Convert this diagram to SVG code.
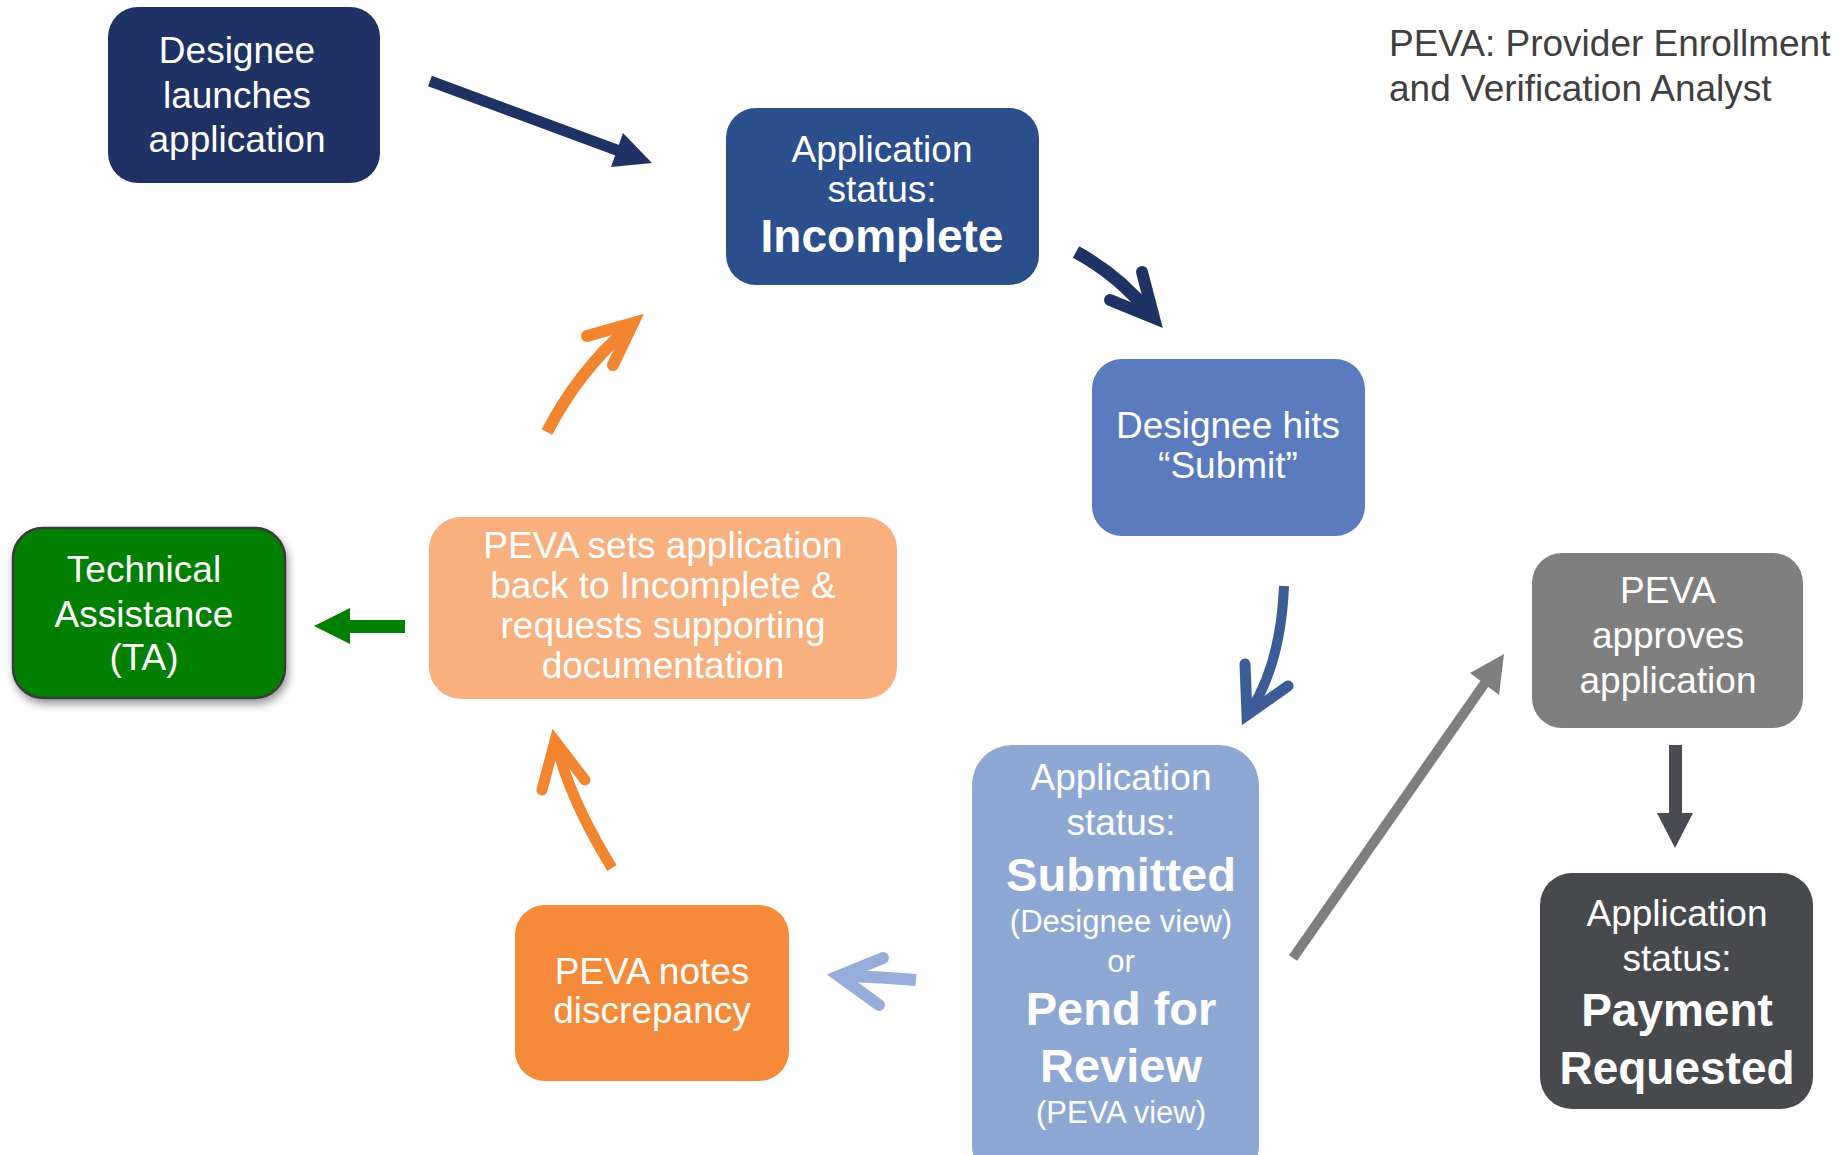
<svg xmlns="http://www.w3.org/2000/svg" width="1848" height="1155" viewBox="0 0 1848 1155">
<defs>
<style>
text{font-family:"Liberation Sans",Arial,sans-serif;fill:#fff;text-anchor:middle}
.r{font-size:37px}
.b{font-size:46px;font-weight:bold}
.bb{font-size:47px;font-weight:bold}
.s{font-size:31px}
.m{font-size:37px}
.legend{font-size:37px;fill:#404040;text-anchor:start}
.head{fill:none;stroke-linecap:round;stroke-linejoin:miter;stroke-miterlimit:10}
.shaft{fill:none;stroke-linecap:butt}
</style>
<filter id="sh" x="-20%" y="-20%" width="140%" height="150%">
<feDropShadow dx="2" dy="5" stdDeviation="4" flood-color="#000" flood-opacity="0.4"/>
</filter>
</defs>
<rect width="1848" height="1155" fill="#fff"/>

<g id="connectors">
<!-- launches -> Incomplete -->
<line x1="430" y1="81" x2="622" y2="152" stroke="#1F3264" stroke-width="11"/>
<polygon points="652,163 623,133 611,167" fill="#1F3264"/>
<!-- Incomplete -> Submit -->
<path class="shaft" d="M1076,252 Q1120,276 1150,314" stroke="#1F3264" stroke-width="13"/>
<polyline class="head" points="1110,300 1154,318 1142,272" stroke="#1F3264" stroke-width="12"/>
<!-- Submit -> Submitted -->
<path class="shaft" d="M1284,586 Q1281,662 1251,710" stroke="#3B5C96" stroke-width="10"/>
<polyline class="head" points="1245,664 1247,715 1288,686" stroke="#3B5C96" stroke-width="11"/>
<!-- Submitted -> approves -->
<line x1="1293" y1="958" x2="1487" y2="680" stroke="#7F7F7F" stroke-width="10"/>
<polygon points="1504,654 1470,673 1499,695" fill="#7F7F7F"/>
<!-- approves -> Payment -->
<rect x="1669" y="745" width="13" height="69" fill="#4A4B50"/>
<polygon points="1657,813 1693,813 1675,848" fill="#4A4B50"/>
<!-- Submitted -> notes -->
<path class="shaft" d="M916,980 Q882,977 846,976" stroke="#98AEDA" stroke-width="12"/>
<polyline class="head" points="883,958 839,976 879,1005" stroke="#98AEDA" stroke-width="12"/>
<!-- notes -> sets -->
<path class="shaft" d="M612,868 Q572,803 558,750" stroke="#F28530" stroke-width="11"/>
<polyline class="head" points="542,790 555,741 585,780" stroke="#F28530" stroke-width="11"/>
<!-- sets -> Incomplete -->
<path class="shaft" d="M547,432 Q578,372 626,330" stroke="#F28530" stroke-width="12"/>
<polyline class="head" points="587,336 633,323 613,365" stroke="#F28530" stroke-width="12"/>
<!-- sets -> TA -->
<rect x="349" y="620" width="56" height="13" fill="#007F00"/>
<polygon points="314,626 350,608 350,644" fill="#007F00"/>
</g>

<g id="node-launch">
<rect x="108" y="7" width="272" height="176" rx="30" fill="#1F3264"/>
<text class="r" x="237" y="63">Designee</text>
<text class="r" x="237" y="108">launches</text>
<text class="r" x="237" y="152">application</text>
</g>

<g id="node-incomplete">
<rect x="726" y="108" width="313" height="177" rx="30" fill="#2B4F8C"/>
<text class="r" x="882" y="162">Application</text>
<text class="r" x="882" y="202">status:</text>
<text class="b" x="882" y="252">Incomplete</text>
</g>

<g id="node-submit">
<rect x="1092" y="359" width="273" height="177" rx="30" fill="#5A7BBE"/>
<text class="r" x="1228" y="438">Designee hits</text>
<text class="r" x="1228" y="478">“Submit”</text>
</g>

<g id="node-approves">
<rect x="1532" y="553" width="271" height="175" rx="30" fill="#7F7F7F"/>
<text class="r" x="1668" y="603">PEVA</text>
<text class="r" x="1668" y="648">approves</text>
<text class="r" x="1668" y="693">application</text>
</g>

<g id="node-payment">
<rect x="1540" y="873" width="273" height="236" rx="32" fill="#48494D"/>
<text class="r" x="1677" y="926">Application</text>
<text class="r" x="1677" y="971">status:</text>
<text class="b" x="1677" y="1026">Payment</text>
<text class="b" x="1677" y="1084">Requested</text>
</g>

<g id="node-submitted">
<rect x="972" y="745" width="287" height="440" rx="40" fill="#8EA8D4"/>
<text class="r" x="1121" y="790">Application</text>
<text class="r" x="1121" y="835">status:</text>
<text class="bb" x="1121" y="891">Submitted</text>
<text class="s" x="1121" y="932">(Designee view)</text>
<text class="s" x="1121" y="972">or</text>
<text class="bb" x="1121" y="1025">Pend for</text>
<text class="bb" x="1121" y="1082">Review</text>
<text class="s" x="1121" y="1123">(PEVA view)</text>
</g>

<g id="node-notes">
<rect x="515" y="905" width="274" height="176" rx="30" fill="#F58A3A"/>
<text class="r" x="652" y="984">PEVA notes</text>
<text class="r" x="652" y="1023">discrepancy</text>
</g>

<g id="node-sets">
<rect x="429" y="517" width="468" height="182" rx="32" fill="#F8B07E"/>
<text class="m" x="663" y="558">PEVA sets application</text>
<text class="m" x="663" y="598">back to Incomplete &amp;</text>
<text class="m" x="663" y="638">requests supporting</text>
<text class="m" x="663" y="678">documentation</text>
</g>

<g id="node-ta">
<rect x="13" y="528" width="272" height="170" rx="30" fill="#007F00" stroke="#3A3A3A" stroke-width="2.5" filter="url(#sh)"/>
<text class="r" x="144" y="582">Technical</text>
<text class="r" x="144" y="627">Assistance</text>
<text class="r" x="144" y="670">(TA)</text>
</g>

<g id="legend">
<text class="legend" x="1389" y="56">PEVA: Provider Enrollment</text>
<text class="legend" x="1389" y="101">and Verification Analyst</text>
</g>
</svg>
